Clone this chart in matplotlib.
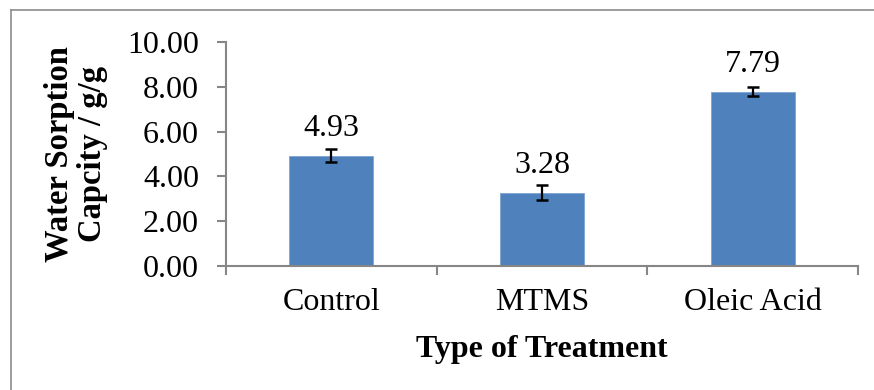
import matplotlib
matplotlib.use("Agg")
import matplotlib.pyplot as plt
from matplotlib.lines import Line2D
import numpy as np

categories = ["Control", "MTMS", "Oleic Acid"]
values = [4.93, 3.28, 7.79]
errors = [0.30, 0.35, 0.20]
value_labels = ["4.93", "3.28", "7.79"]
yticks = [0, 2, 4, 6, 8, 10]

plt.rcParams['font.family'] = ['Liberation Serif', 'DejaVu Serif']

W, H = 874, 390
fig = plt.figure(figsize=(W / 100, H / 100), dpi=100)
ax = fig.add_axes([226 / W, 1 - 266 / H, (858 - 226) / W, (266 - 42) / H])

axis_col = "#868686"
FS = 23
x = np.arange(len(categories))
ax.bar(x, values, width=0.4, color="#4F81BD", edgecolor="#7FA3D3", linewidth=0.6, zorder=2)
ax.errorbar(x, values, yerr=errors, fmt='none', ecolor='black', elinewidth=1.6,
            capsize=4.5, capthick=1.8, zorder=3)

for xi, v, lab in zip(x, values, value_labels):
    ax.annotate(lab, (xi, v), xytext=(0, 14), textcoords='offset points',
                ha='center', va='baseline', fontsize=FS)

ax.set_xlim(-0.5, 2.5)
ax.set_ylim(0, 10)
ax.set_yticks(yticks)
ax.set_yticklabels([f"{t:.2f}" for t in yticks])
ax.set_xticks(x)
ax.set_xticklabels(categories)
ax.set_xticks([-0.5, 0.5, 1.5, 2.5], minor=True)

ax.tick_params(axis='x', which='major', length=0, pad=16, labelsize=FS)
ax.tick_params(axis='x', which='minor', length=6.5, width=1.5, color=axis_col, direction='out')
ax.tick_params(axis='y', which='major', length=6.5, width=1.5, color=axis_col, pad=13, labelsize=FS)

for s in ['top', 'right']:
    ax.spines[s].set_visible(False)
for s in ['left', 'bottom']:
    ax.spines[s].set_color(axis_col)
    ax.spines[s].set_linewidth(1.5)

ax.set_xlabel("Type of Treatment", fontsize=FS, fontweight='bold', labelpad=13)
ax.set_ylabel("Water Sorption\nCapcity / g/g", fontsize=23.5, fontweight='bold',
              labelpad=14, linespacing=1.05)

# chart border (top and left visible)
fig.add_artist(Line2D([11 / W, 1], [1 - 10 / H, 1 - 10 / H], color="#8c8c8c", lw=1.2,
                      transform=fig.transFigure))
fig.add_artist(Line2D([11 / W, 11 / W], [0, 1 - 10 / H], color="#8c8c8c", lw=1.2,
                      transform=fig.transFigure))

fig.savefig("out.png", dpi=100)
